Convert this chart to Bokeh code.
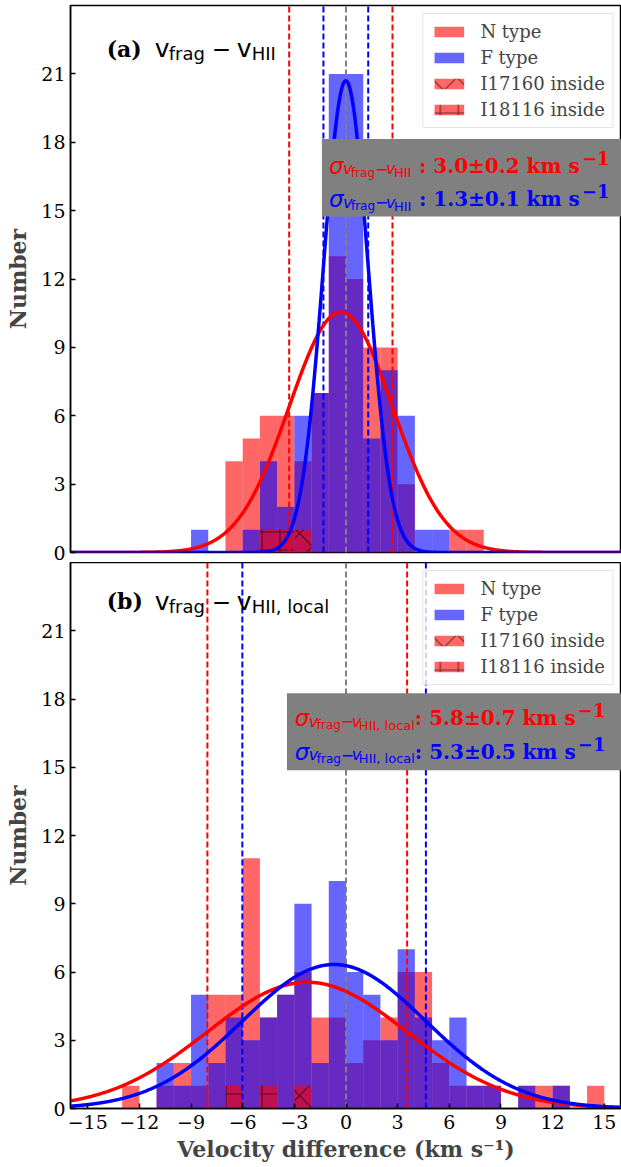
import numpy as np
from bokeh.plotting import figure
from bokeh.layouts import column
from bokeh.models import (FixedTicker, Legend, LegendItem, Label, BoxAnnotation, Range1d)
from bokeh.embed import file_html
from bokeh.resources import INLINE

# ---------------- data ----------------
BIN_LEFT = [-16, -15, -14, -13, -12, -11, -10, -9, -8, -7, -6, -5, -4, -3, -2, -1,
            0, 1, 2, 3, 4, 5, 6, 7, 8, 9, 10, 11, 12, 13, 14, 15]
BIN_WIDTH = 1.0

# panel (a): v_frag - v_HII
A_N_TYPE = [0, 0, 0, 0, 0, 0, 0, 0, 0, 4, 5, 6, 6, 4, 7, 13,
            12, 9, 9, 3, 0, 0, 1, 1, 0, 0, 0, 0, 0, 0, 0, 0]
A_F_TYPE = [0, 0, 0, 0, 0, 0, 0, 1, 0, 0, 1, 4, 2, 6, 7, 21,
            21, 5, 8, 6, 1, 1, 0, 0, 0, 0, 0, 0, 0, 0, 0, 0]
A_I17160_BINS = [-3]
A_I17160_COUNTS = [1]
A_I18116_BINS = [-5, -4]
A_I18116_COUNTS = [1, 1]
# gaussian fits: amplitude, mean, sigma
A_FIT_N = [10.55, -0.30, 3.0]
A_FIT_F = [20.7, -0.01, 1.3]

# panel (b): v_frag - v_HII,local
B_N_TYPE = [0, 0, 0, 1, 0, 1, 2, 1, 5, 5, 11, 4, 5, 6, 4, 4,
            2, 3, 4, 6, 6, 2, 1, 1, 1, 0, 1, 1, 1, 0, 1, 0]
B_F_TYPE = [0, 0, 0, 0, 0, 2, 1, 5, 2, 4, 3, 4, 5, 9, 2, 10,
            6, 5, 3, 7, 4, 3, 4, 1, 1, 0, 1, 0, 1, 0, 0, 0]
B_I17160_BINS = [-3]
B_I17160_COUNTS = [1]
B_I18116_BINS = [-7, -5]
B_I18116_COUNTS = [1, 1]
B_FIT_N = [5.55, -2.25, 5.8]
B_FIT_F = [6.33, -0.69, 5.33]

X_TICKS = [-15, -12, -9, -6, -3, 0, 3, 6, 9, 12, 15]
X_TICK_LABELS = ["\u221215", "\u221212", "\u22129", "\u22126", "\u22123", "0", "3", "6", "9", "12", "15"]
Y_TICKS = [0, 3, 6, 9, 12, 15, 18, 21]
Y_TICK_LABELS = ["0", "3", "6", "9", "12", "15", "18", "21"]
LEGEND_LABELS = ["N type", "F type", "I17160 inside", "I18116 inside"]

SIGMA_A = ["3.0\u00b10.2", "1.3\u00b10.1"]
SIGMA_B = ["5.8\u00b10.7", "5.3\u00b10.5"]

RED = "#ff0000"
BLUE = "#0000ff"
SERIF = "DejaVu Serif"
SANS = "DejaVu Sans"


def gauss(x, amp, mu, sig):
    return amp * np.exp(-(x - mu) ** 2 / (2 * sig ** 2))


def add_text(p, x, y, text, xo, yo, font, size, color, style="normal"):
    p.add_layout(Label(x=x, y=y, x_offset=xo, y_offset=yo, text=text,
                       text_font=font, text_font_size=size, text_color=color,
                       text_font_style=style, text_baseline="alphabetic",
                       text_align="left"))


def make_panel(n_counts, f_counts, i17_bins, i17_counts, i18_bins, i18_counts,
               fit_n, fit_f, tag, sub2, sigmas, title_y, box, sig_x, sig_y,
               sub_pos, colon_shift, title_sub_pos, bottom, height, min_top, min_bottom):
    p = figure(width=621, height=height, x_range=Range1d(-16, 16),
               y_range=Range1d(0, 24), output_backend="svg",
               toolbar_location=None, min_border_left=70, min_border_right=0,
               min_border_top=min_top, min_border_bottom=min_bottom)
    p.grid.visible = False
    p.outline_line_color = "black"
    p.outline_line_width = 1.5
    p.background_fill_color = "white"

    left = np.array(BIN_LEFT, dtype=float)
    rN = p.quad(left=left, right=left + BIN_WIDTH, bottom=0, top=n_counts,
                fill_color=RED, fill_alpha=0.6, line_color=None)
    rF = p.quad(left=left, right=left + BIN_WIDTH, bottom=0, top=f_counts,
                fill_color=BLUE, fill_alpha=0.6, line_color=None)
    l17 = np.array(i17_bins, dtype=float)
    r17 = p.quad(left=l17, right=l17 + BIN_WIDTH, bottom=0, top=i17_counts,
                 fill_color=RED, fill_alpha=0.6, line_color=None,
                 hatch_pattern="x", hatch_color="black", hatch_alpha=0.55,
                 hatch_scale=26, hatch_weight=1.2)
    l18 = np.array(i18_bins, dtype=float)
    r18 = p.quad(left=l18, right=l18 + BIN_WIDTH, bottom=0, top=i18_counts,
                 fill_color=RED, fill_alpha=0.6, line_color=None,
                 hatch_pattern="+", hatch_color="black", hatch_alpha=0.55,
                 hatch_scale=18, hatch_weight=1.2)

    # dashed lines at mean +/- sigma and at zero
    for fit, col in ((fit_n, RED), (fit_f, BLUE)):
        _, mu, sg = fit
        p.segment(x0=[mu - sg, mu + sg], y0=[0, 0], x1=[mu - sg, mu + sg], y1=[24, 24],
                  line_color=col, line_width=2, line_dash="6 3")
    p.segment(x0=[0], y0=[0], x1=[0], y1=[24], line_color="grey",
              line_width=2, line_dash="6 3")

    xs = np.linspace(-16, 16, 801)
    p.line(xs, gauss(xs, *fit_n), line_color=RED, line_width=3.5)
    p.line(xs, gauss(xs, *fit_f), line_color=BLUE, line_width=3.5)

    # axes
    for ax in (p.xaxis[0], p.yaxis[0]):
        ax.axis_line_width = 1.5
        ax.major_tick_in = 5
        ax.major_tick_out = 0
        ax.major_tick_line_width = 1.5
        ax.minor_tick_line_color = None
        ax.major_label_text_font = SERIF
        ax.major_label_text_font_size = "19px"
        ax.major_label_text_color = "black"
    p.xaxis.ticker = FixedTicker(ticks=X_TICKS, minor_ticks=[])
    p.yaxis.ticker = FixedTicker(ticks=Y_TICKS, minor_ticks=[])
    p.xaxis.major_label_overrides = dict(zip(X_TICKS, X_TICK_LABELS))
    p.yaxis.major_label_overrides = dict(zip(Y_TICKS, Y_TICK_LABELS))
    p.yaxis.major_label_standoff = 5
    p.yaxis.axis_label = "Number"
    p.yaxis.axis_label_text_font = SERIF
    p.yaxis.axis_label_text_font_style = "bold"
    p.yaxis.axis_label_text_font_size = "22px"
    p.yaxis.axis_label_standoff = 7
    if bottom:
        p.xaxis.major_label_standoff = 6
        p.xaxis.axis_label = "Velocity difference (km s\u207b\u00b9)"
        p.xaxis.axis_label_text_font = SERIF
        p.xaxis.axis_label_text_font_style = "bold"
        p.xaxis.axis_label_text_font_size = "22px"
        p.xaxis.axis_label_standoff = 4
    else:
        p.xaxis.visible = False

    # panel title
    tx = -13.9
    add_text(p, tx, title_y, tag, 0, 0, SERIF, "22px", "black", "bold")
    add_text(p, tx, title_y, "v", 48, 0, SANS, "25px", "black")
    add_text(p, tx, title_y, "frag", 62, -5, SANS, "18px", "black")
    add_text(p, tx, title_y, "\u2212", 105, 0, SANS, "23px", "black")
    add_text(p, tx, title_y, "v", 130, 0, SANS, "25px", "black")
    add_text(p, tx, title_y, sub2, title_sub_pos, -5, SANS, "18px", "black")

    # sigma box
    p.add_layout(BoxAnnotation(left=box[0], right=16, bottom=box[1], top=box[2],
                               fill_color="#808080", fill_alpha=1.0, line_color=None))
    for k, (col, sval) in enumerate(zip((RED, BLUE), sigmas)):
        yb = sig_y[k]
        add_text(p, sig_x, yb, "\u03c3", 0, 0, SANS, "23px", col, "italic")
        add_text(p, sig_x, yb, "v", 14, -3, SANS, "16px", col, "italic")
        add_text(p, sig_x, yb, "frag", 22, -7, SANS, "12px", col)
        add_text(p, sig_x, yb, "\u2212", 46, -3, SANS, "16px", col)
        add_text(p, sig_x, yb, "v", 57, -3, SANS, "16px", col, "italic")
        add_text(p, sig_x, yb, sub2, sub_pos, -7, SANS, "13px", col)
        add_text(p, sig_x, yb, ": " + sval + " km s", colon_shift, 0, SERIF, "20px", col, "bold")
        add_text(p, sig_x, yb, "\u22121", colon_shift + 163, 8, SERIF, "18px", col, "bold")

    legend = Legend(items=[LegendItem(label=LEGEND_LABELS[0], renderers=[rN]),
                           LegendItem(label=LEGEND_LABELS[1], renderers=[rF]),
                           LegendItem(label=LEGEND_LABELS[2], renderers=[r17]),
                           LegendItem(label=LEGEND_LABELS[3], renderers=[r18])],
                    location="top_right", label_text_font=SERIF,
                    label_text_font_size="18px", glyph_width=37, glyph_height=13,
                    label_standoff=13, spacing=5, padding=7, margin=8,
                    border_line_color="#cccccc", border_line_width=1,
                    background_fill_alpha=0.8, label_height=20)
    p.add_layout(legend)
    return p


pa = make_panel(A_N_TYPE, A_F_TYPE, A_I17160_BINS, A_I17160_COUNTS,
                A_I18116_BINS, A_I18116_COUNTS, A_FIT_N, A_FIT_F,
                "(a)", "HII", SIGMA_A, 22.1, (-1.40, 14.74, 18.14), -0.99,
                (16.97, 15.51), 65, 90, 145, False, 562, 5, 10)
pb = make_panel(B_N_TYPE, B_F_TYPE, B_I17160_BINS, B_I17160_COUNTS,
                B_I18116_BINS, B_I18116_COUNTS, B_FIT_N, B_FIT_F,
                "(b)", "HII, local", SIGMA_B, 22.3, (-3.43, 14.87, 18.25), -2.97,
                (17.15, 15.69), 64, 120, 145, True, 602, 0, 0)

layout = column(pa, pb, spacing=0)
open("out.html", "w").write(file_html(layout, INLINE))
